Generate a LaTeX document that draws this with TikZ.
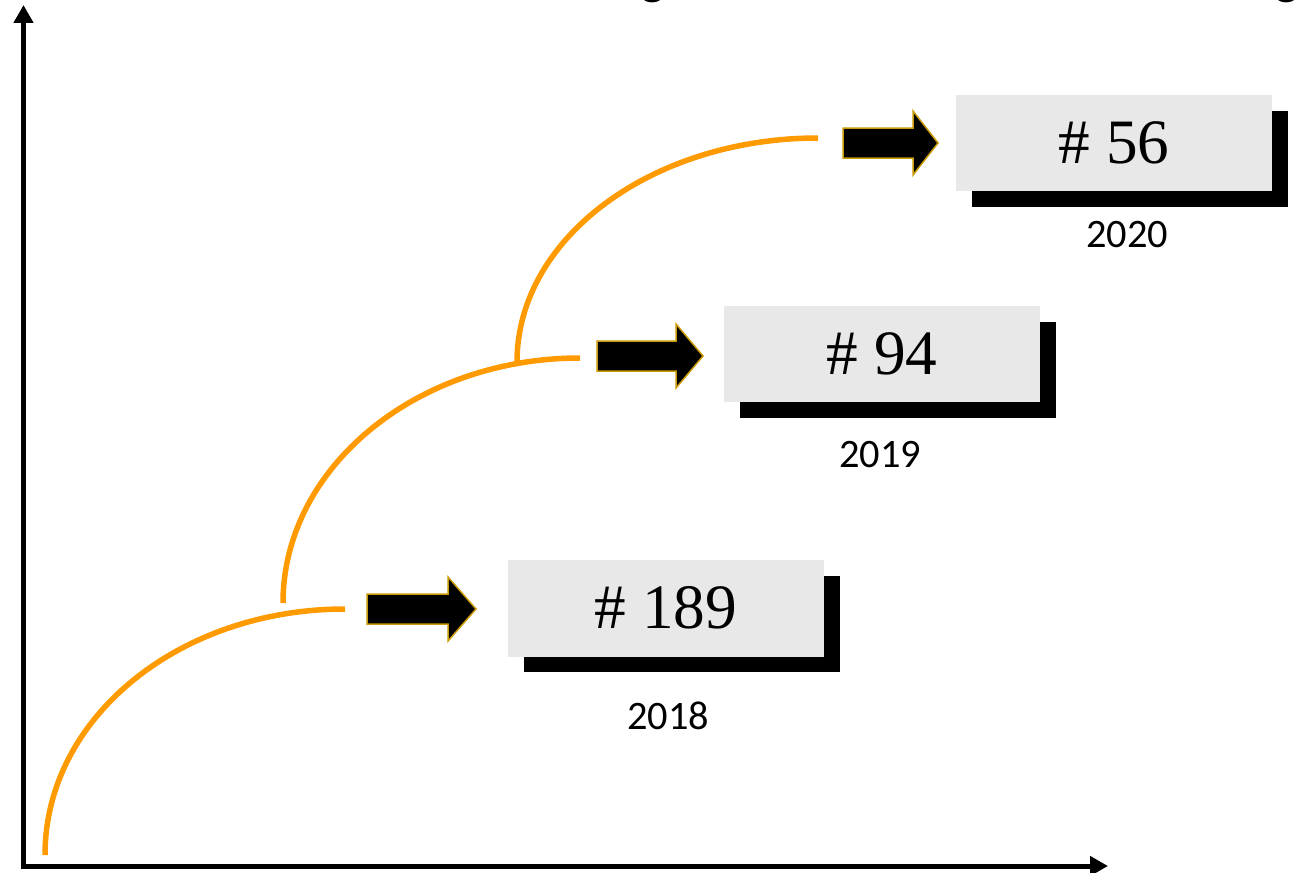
\documentclass[tikz,border=0pt]{standalone}
\usepackage{fontspec}
\setmainfont{Liberation Serif}
\newfontfamily\yearfont{Carlito}
\usepackage{tikz}
\usetikzlibrary{arrows.meta,shadows}
\definecolor{curveOrange}{HTML}{FF9A00}
\definecolor{arrowGold}{HTML}{C99A06}
\definecolor{boxGray}{HTML}{E8E8E8}

\begin{document}
\begin{tikzpicture}[x=0.02cm,y=-0.02cm,>={Triangle[length=0.36cm,width=0.38cm]},
  rankbox/.style={fill=boxGray,minimum width=6.32cm,minimum height=1.94cm,inner sep=0pt,
    font=\fontsize{36}{40}\selectfont,
    drop shadow={shadow xshift=0.32cm,shadow yshift=-0.32cm,fill=black,opacity=1}},
  year/.style={font=\yearfont\fontsize{23}{26}\selectfont},
  titlefrag/.style={font=\yearfont\bfseries\fontsize{28}{32}\selectfont,inner sep=0pt,anchor=base},
  growth/.style={curveOrange,line width=0.11cm},
  fatarrow/.style={fill=black,draw=arrowGold,line width=0.03cm,line join=miter}]
\useasboundingbox (0,0) rectangle (1304,872);
% cut-off title
\node[titlefrag] (frag1) at (653,-6) {g};
\node[titlefrag] (frag2) at (1287,-6) {g};
% axes
\coordinate (ytop) at (23.5,5);
\coordinate (xend) at (1108,866);
\draw[<->,line width=0.1cm] (ytop) |- (xend);
% growth curves
\draw[growth] (45,855) .. controls (45,718) and (179,609) .. (345,609);
\draw[growth] (283,603) .. controls (283,468) and (416,358) .. (580,358);
\draw[growth] (517,362) .. controls (517,238) and (652,138) .. (818,138);
% ranks
\node[rankbox] (r2018) at (666,608) {\raisebox{-2pt}{\# 189}};
\node[rankbox] (r2019) at (882,354) {\raisebox{-2pt}{\# 94}};
\node[rankbox] (r2020) at (1114,143) {\raisebox{-3pt}{\# 56}};
\node[year] (y2018) at (668,716) {2018};
\node[year] (y2019) at (880,455) {2019};
\node[year] (y2020) at (1127,235) {2020};
% block arrows
\foreach \tail/\neck/\tip/\mid in {367/448/476/609, 597/676/703/356, 843/913/938/143}
  \draw[fatarrow] (\tail,\mid-15) -- (\neck,\mid-15) -- (\neck,\mid-32) -- (\tip,\mid)
    -- (\neck,\mid+32) -- (\neck,\mid+15) -- (\tail,\mid+15) -- cycle;
\end{tikzpicture}
\end{document}
